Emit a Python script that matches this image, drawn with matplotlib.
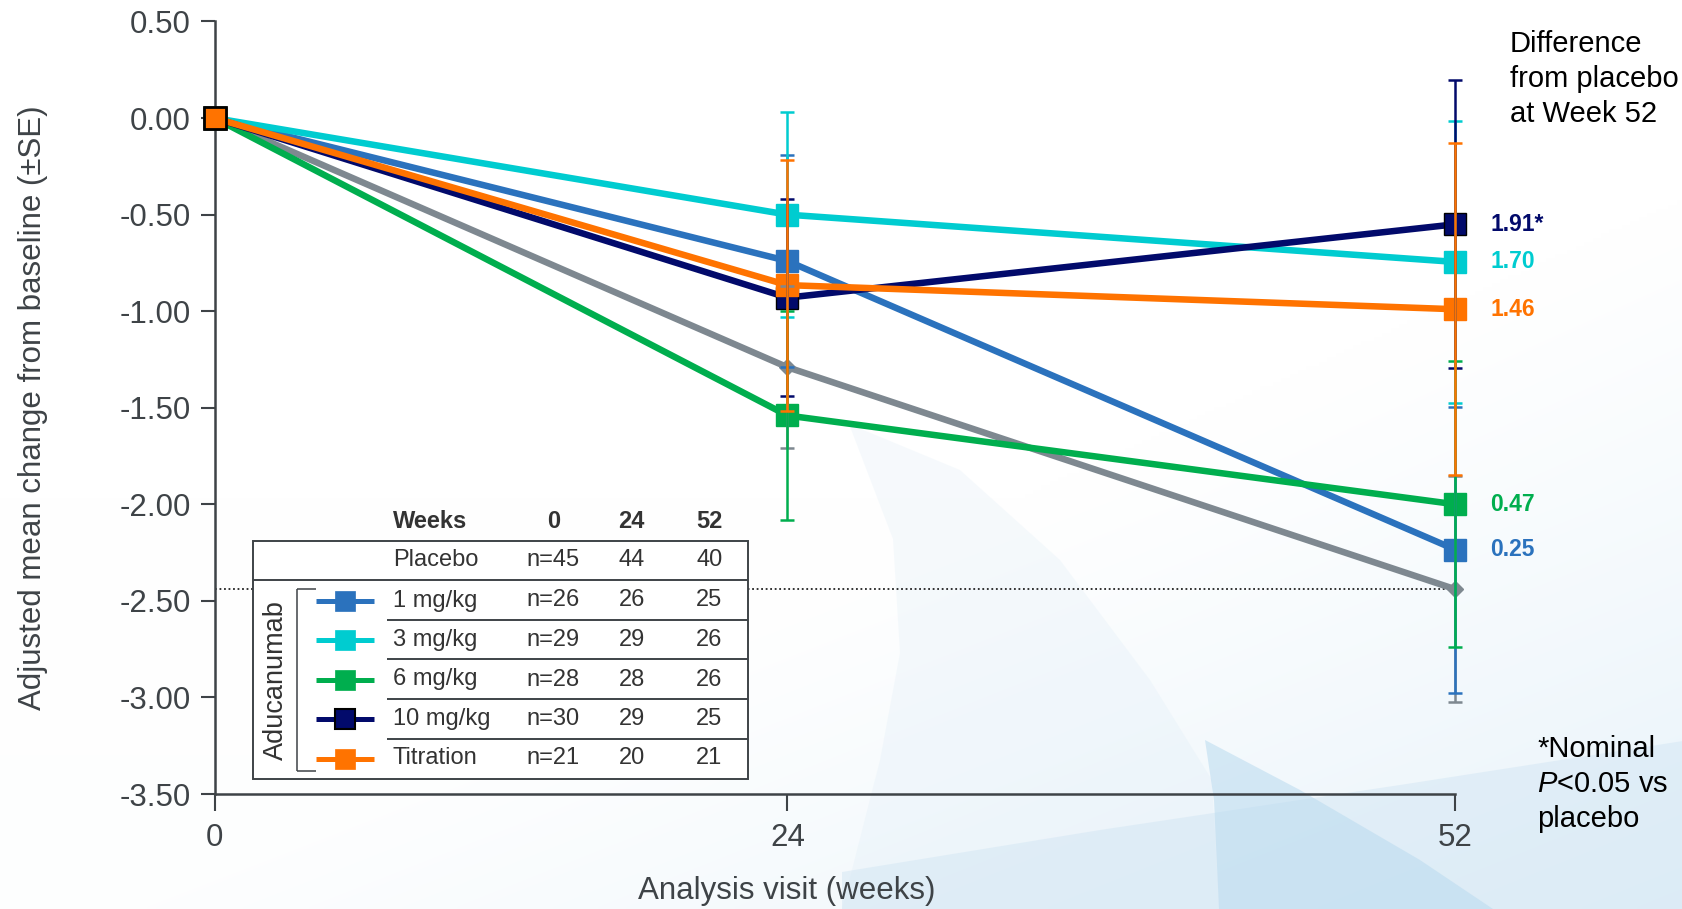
import matplotlib
matplotlib.use("Agg")
import numpy as np
import matplotlib.pyplot as plt
from matplotlib.patches import Polygon, Rectangle
from matplotlib.lines import Line2D

plt.rcParams['font.family'] = ['Liberation Sans', 'DejaVu Sans']
plt.rcParams['mathtext.fontset'] = 'custom'
plt.rcParams['mathtext.it'] = 'Liberation Sans:italic'
plt.rcParams['mathtext.rm'] = 'Liberation Sans'

# ---- data -------------------------------------------------------------
weeks = [0, 24, 52]

placebo_mean = [0.0, -1.29, -2.44]
placebo_se = [0.0, 0.42, 0.585]

mg1_mean = [0.0, -0.74, -2.235]
mg1_se = [0.0, 0.55, 0.74]

mg3_mean = [0.0, -0.50, -0.745]
mg3_se = [0.0, 0.53, 0.73]

mg6_mean = [0.0, -1.54, -2.00]
mg6_se = [0.0, 0.54, 0.74]

mg10_mean = [0.0, -0.93, -0.55]
mg10_se = [0.0, 0.51, 0.745]

titration_mean = [0.0, -0.865, -0.99]
titration_se = [0.0, 0.65, 0.86]

group_names = ["Placebo", "1 mg/kg", "3 mg/kg", "6 mg/kg", "10 mg/kg", "Titration"]
n_week0 = ["n=45", "n=26", "n=29", "n=28", "n=30", "n=21"]
n_week24 = ["44", "26", "29", "28", "29", "20"]
n_week52 = ["40", "25", "26", "26", "25", "21"]
diff_labels = ["1.91*", "1.70", "1.46", "0.47", "0.25"]

yticks = [0.5, 0.0, -0.5, -1.0, -1.5, -2.0, -2.5, -3.0, -3.5]

# ---- styling ----------------------------------------------------------
C_PBO = '#7E8890'
C_1 = '#2B72BD'
C_3 = '#00CCD0'
C_6 = '#00AE4E'
C_10 = '#020A6B'
C_T = '#FF7300'
AX = '#3E4347'

W, H = 1683, 909
fig = plt.figure(figsize=(W / 100, H / 100), dpi=100, facecolor='white')


def fp(x, y):
    """pixel position (from top-left) -> figure fraction"""
    return x / W, 1 - y / H


# ---- soft decorative backdrop ------------------------------------------
bg = fig.add_axes([0, 0, 1, 1], zorder=-10)
bg.set_xlim(0, W)
bg.set_ylim(H, 0)
bg.axis('off')
gx, gy = np.meshgrid(np.linspace(0, 1, 400), np.linspace(0, 1, 220))
wgt = np.clip(0.75 * gx + 0.9 * gy - 0.95, 0, 1) ** 1.1 * 0.55 + np.clip(gy - 0.55, 0, 1) * 0.06
tint = np.array([196, 224, 242]) / 255.0
img = 1 - wgt[..., None] * (1 - tint[None, None, :])
bg.imshow(img, extent=(0, W, H, 0), aspect='auto', interpolation='bilinear', zorder=0)

bg_shapes = [
    # crescent sweeping up from the lower middle
    ([(842, 909), (880, 760), (900, 653), (893, 539), (849, 424), (960, 470),
      (1060, 560), (1150, 680), (1212, 780), (1219, 909)], '#DCEBF6', 0.25),
    # rising band across the bottom
    ([(842, 909), (842, 872), (1100, 830), (1400, 785), (1683, 741), (1683, 909)],
     '#CFE4F3', 0.45),
    # deepest pane in the lower right
    ([(1219, 909), (1214, 800), (1205, 740), (1300, 790), (1420, 860), (1493, 909)],
     '#B9DAEF', 0.55),
]
for pts, col, a in bg_shapes:
    bg.add_patch(Polygon(pts, closed=True, facecolor=col, edgecolor='none', alpha=a, zorder=1))

left, right = 214.7, 1455.4
top, bottom = 21.5, 794.0
ax = fig.add_axes([left / W, 1 - bottom / H, (right - left) / W, (bottom - top) / H])
ax.set_facecolor('none')
ax.set_xlim(0, 52)
ax.set_ylim(-3.5, 0.5)

for s in ['top', 'right']:
    ax.spines[s].set_visible(False)
for s in ['left', 'bottom']:
    ax.spines[s].set_color(AX)
    ax.spines[s].set_linewidth(1.8)
ax.set_xticks(weeks)
ax.set_xticklabels([str(w) for w in weeks])
ax.set_yticks(yticks)
ax.set_yticklabels([f"{v:.2f}" for v in yticks])
ax.tick_params(axis='x', direction='out', length=12, width=1.5, color=AX, pad=9,
               labelsize=22.5, labelcolor=AX)
ax.tick_params(axis='y', direction='out', length=10, width=1.5, color=AX, pad=7,
               labelsize=22.5, labelcolor=AX)

# placebo reference at week 52
ax.axhline(placebo_mean[-1], color='#222222', lw=1.3, ls=(0, (1, 1.5)), zorder=1)

series = [
    (placebo_mean, placebo_se, C_PBO, 'D', 8, C_PBO),
    (mg1_mean, mg1_se, C_1, 's', 16, C_1),
    (mg6_mean, mg6_se, C_6, 's', 16, C_6),
    (mg3_mean, mg3_se, C_3, 's', 16, C_3),
    (mg10_mean, mg10_se, C_10, 's', 16, '#000000'),
    (titration_mean, titration_se, C_T, 's', 16, C_T),
]
for i, (m, se, c, mk, ms, mec) in enumerate(series):
    ax.plot(weeks, m, color=c, lw=4.7, marker=mk, ms=ms, mfc=c, mec=mec, mew=1.0,
            zorder=3 + i * 0.1, clip_on=False)

# baseline point
ax.plot([weeks[0]], [titration_mean[0]], marker='s', ms=16, mfc=C_T, mec='black',
        mew=2, zorder=4, clip_on=False, ls='none')

# standard-error bars
err_order = [
    (placebo_mean, placebo_se, C_PBO),
    (mg1_mean, mg1_se, C_1),
    (mg3_mean, mg3_se, C_3),
    (mg10_mean, mg10_se, C_10),
    (mg6_mean, mg6_se, C_6),
    (titration_mean, titration_se, C_T),
]
for i, (m, se, c) in enumerate(err_order):
    ax.errorbar(weeks[1:], m[1:], yerr=se[1:], fmt='none', ecolor=c, elinewidth=1.8,
                capsize=5, capthick=1.8, zorder=5 + i * 0.1, clip_on=False)

# differences from placebo at week 52
lab_vals = [mg10_mean[-1], mg3_mean[-1], titration_mean[-1], mg6_mean[-1], mg1_mean[-1]]
lab_cols = [C_10, C_3, C_T, C_6, C_1]
for txt, v, c in zip(diff_labels, lab_vals, lab_cols):
    ax.annotate(txt, xy=(weeks[-1], v), xytext=(25, 0), textcoords='offset points',
                ha='left', va='center', fontsize=16.5, fontweight='bold', color=c,
                annotation_clip=False)

# axis titles
fig.text(*fp(33, 408), "Adjusted mean change from baseline (\u00b1SE)", rotation=90,
         ha='center', va='center', fontsize=22.5, color=AX)
fig.text(*fp(787, 891), "Analysis visit (weeks)", ha='center', va='center',
         fontsize=22.5, color=AX)

fig.text(*fp(1510, 79), "Difference\nfrom placebo\nat Week 52", ha='left', va='center',
         fontsize=21, color='black', linespacing=1.34)
fig.text(*fp(1537, 784), "*Nominal\n$\\it{P}$<0.05 vs\nplacebo", ha='left', va='center',
         fontsize=21, color='black', linespacing=1.34)

# ---- sample-size table --------------------------------------------------
TL, TR = 253.3, 748.3
TT, TB = 540.7, 779.3
row_lines = [580.0, 620.3, 659.3, 699.0, 739.0]
row_centers = [560.0, 600.5, 640.0, 679.5, 719.0, 758.5]
col_label_x = 392.7
col_x = [553.3, 631.7, 709.3]
TXT = '#333333'
LW_T = 1.4

x0, y0 = fp(TL, TB)
x1, y1 = fp(TR, TT)
fig.add_artist(Rectangle((x0, y0), x1 - x0, y1 - y0, transform=fig.transFigure,
                         facecolor='white', edgecolor=AX, lw=LW_T, zorder=2))


def hline(xa, xb, y, lw=LW_T):
    (ax_, ay), (bx, by) = fp(xa, y), fp(xb, y)
    fig.add_artist(Line2D([ax_, bx], [ay, by], transform=fig.transFigure, color=AX,
                          lw=lw, zorder=3, solid_capstyle='butt'))


def vline(x, ya, yb, lw=LW_T):
    (ax_, ay), (bx, by) = fp(x, ya), fp(x, yb)
    fig.add_artist(Line2D([ax_, bx], [ay, by], transform=fig.transFigure, color=AX,
                          lw=lw, zorder=3, solid_capstyle='butt'))


hline(TL, TR, row_lines[0])
for yl in row_lines[1:]:
    hline(386.7, TR, yl)

# header
fig.text(*fp(col_label_x, 521), "Weeks", ha='left', va='center', fontsize=17,
         fontweight='bold', color=TXT, zorder=4)
for cx, w in zip(col_x, weeks):
    fig.text(*fp(cx, 521), str(w), ha='center', va='center', fontsize=17,
             fontweight='bold', color=TXT, zorder=4)

for yc, name, a, b, c in zip(row_centers, group_names, n_week0, n_week24, n_week52):
    fig.text(*fp(col_label_x, yc), name, ha='left', va='center', fontsize=17,
             color=TXT, zorder=4)
    for cx, t in zip(col_x, [a, b, c]):
        fig.text(*fp(cx, yc), t, ha='center', va='center', fontsize=17, color=TXT, zorder=4)

# legend symbols for active arms
icon_cols = [C_1, C_3, C_6, C_10, C_T]
icon_edges = [C_1, C_3, C_6, '#000000', C_T]
for yc, c, ec in zip(row_centers[1:], icon_cols, icon_edges):
    (ax_, ay), (bx, by) = fp(316, yc), fp(374, yc)
    fig.add_artist(Line2D([ax_, bx], [ay, by], transform=fig.transFigure, color=c,
                          lw=3.6, zorder=4, solid_capstyle='butt'))
    mx, my = fp(345, yc)
    fig.add_artist(Line2D([mx], [my], transform=fig.transFigure, marker='s', ms=14.4,
                          mfc=c, mec=ec, mew=1.5 if ec == '#000000' else 0.5,
                          ls='none', zorder=5))

# bracket grouping the active arms
vline(297.3, 589.3, 771.0, lw=1.1)
hline(297.3, 316.0, 589.3, lw=1.1)
hline(297.3, 316.0, 771.0, lw=1.1)
fig.text(*fp(276, 680), "Aducanumab", rotation=90, ha='center', va='center',
         fontsize=19.5, color=TXT, zorder=4)

fig.savefig("out.png", dpi=100, facecolor=fig.get_facecolor())
